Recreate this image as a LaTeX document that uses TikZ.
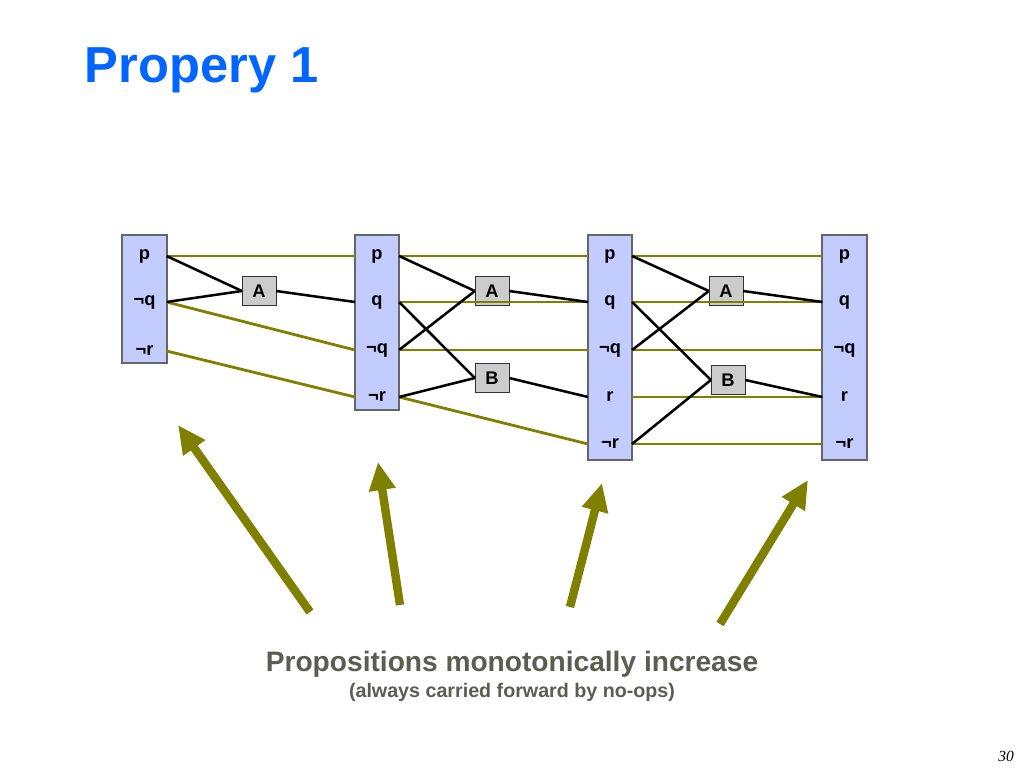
\documentclass[tikz,border=0pt]{standalone}
\usepackage{fontspec}
\setmainfont{Liberation Sans}
\usetikzlibrary{arrows.meta}
\definecolor{olv}{rgb}{0.50,0.50,0.00}
\definecolor{lblue}{rgb}{0.76,0.80,1.00}
\definecolor{ttl}{rgb}{0.00,0.40,1.00}
\definecolor{txtg}{rgb}{0.36,0.36,0.32}
\tikzset{
  lvl/.style={fill=lblue,draw=gray!80!black,line width=0.8pt},
  prop/.style={minimum width=31pt,minimum height=14pt,inner sep=0pt,font=\bfseries\fontsize{13}{13}\selectfont},
  act/.style={draw=black!80,fill=gray!40,minimum width=24pt,minimum height=21pt,inner sep=0pt,font=\bfseries\fontsize{13}{13}\selectfont},
  noop/.style={olv,line width=2pt},
  edge/.style={black,line width=1.8pt},
  big/.style={olv,line width=6pt,-{Triangle[length=20pt,width=18pt]}}
}
\begin{document}
\begin{tikzpicture}[x=0.025cm,y=-0.025cm]
\useasboundingbox (0,0) rectangle (1024,768);

\node[anchor=west,font=\bfseries\fontsize{36}{36}\selectfont,text=ttl] (title) at (80,70) {Propery 1};

% levels
\fill[lvl] (122,235) rectangle (167,363);
\fill[lvl] (355,235) rectangle (399,410);
\fill[lvl] (588,235) rectangle (632,460);
\fill[lvl] (822,235) rectangle (867,460);
\draw[lvl,fill=none] (122,235) rectangle (167,363);
\draw[lvl,fill=none] (355,235) rectangle (399,410);
\draw[lvl,fill=none] (588,235) rectangle (632,460);
\draw[lvl,fill=none] (822,235) rectangle (867,460);

\node[prop] (a1) at (144.5,256) {p};
\node[prop] (a2) at (144.5,302) {¬q};
\node[prop] (a3) at (144.5,351) {¬r};

\node[prop] (b1) at (377,256) {p};
\node[prop] (b2) at (377,302) {q};
\node[prop] (b3) at (377,350) {¬q};
\node[prop] (b4) at (377,397) {¬r};

\node[prop] (c1) at (610,256) {p};
\node[prop] (c2) at (610,302) {q};
\node[prop] (c3) at (610,350) {¬q};
\node[prop] (c4) at (610,397) {r};
\node[prop] (c5) at (610,444) {¬r};

\node[prop] (d1) at (844.5,256) {p};
\node[prop] (d2) at (844.5,302) {q};
\node[prop] (d3) at (844.5,350) {¬q};
\node[prop] (d4) at (844.5,397) {r};
\node[prop] (d5) at (844.5,444) {¬r};

% actions
\node[act] (A1) at (259,291) {A};
\node[act] (A2) at (492,291) {A};
\node[act] (B2) at (492,378) {B};
\node[act] (A3) at (726,291) {A};
\node[act] (B3) at (728,380) {B};

% no-ops
\draw[noop] (a1.east) -- (b1.west);
\draw[noop] (a2.east) -- (b3.west);
\draw[noop] (a3.east) -- (b4.west);
\draw[noop] (b1.east) -- (c1.west);
\draw[noop] (b2.east) -- (c2.west);
\draw[noop] (b3.east) -- (c3.west);
\draw[noop] (b4.east) -- (c5.west);
\foreach \i in {1,...,5}{
  \draw[noop] (c\i.east) -- (d\i.west);
}

% actions' edges
\draw[edge] (a1.east) -- (A1.west);
\draw[edge] (a2.east) -- (A1.west);
\draw[edge] (A1.east) -- (b2.west);
\draw[edge] (b1.east) -- (A2.west);
\draw[edge] (b3.east) -- (A2.west);
\draw[edge] (A2.east) -- (c2.west);
\draw[edge] (b2.east) -- (B2.west);
\draw[edge] (b4.east) -- (B2.west);
\draw[edge] (B2.east) -- (c4.west);
\draw[edge] (c1.east) -- (A3.west);
\draw[edge] (c3.east) -- (A3.west);
\draw[edge] (A3.east) -- (d2.west);
\draw[edge] (c2.east) -- (B3.west);
\draw[edge] (c5.east) -- (B3.west);
\draw[edge] (B3.east) -- (d4.west);

% big arrows
\coordinate (s1) at (310,612); \coordinate (t1) at (178,425);
\coordinate (s2) at (400,605); \coordinate (t2) at (378,462);
\coordinate (s3) at (570,607); \coordinate (t3) at (602,483);
\coordinate (s4) at (720,624); \coordinate (t4) at (808,480);
\foreach \i in {1,...,4}{
  \draw[big] (s\i) -- (t\i);
}

\node[font=\bfseries\fontsize{20}{20}\selectfont,text=txtg] (cap) at (512,664) {Propositions monotonically increase};
\node[font=\bfseries\fontsize{14}{14}\selectfont,text=txtg] (sub) at (512,692) {(always carried forward by no-ops)};
\node[font=\itshape\fontsize{11}{11}\selectfont,text=black] (pg) at (1006,756) {\fontspec{Liberation Serif}30};
\end{tikzpicture}
\end{document}
